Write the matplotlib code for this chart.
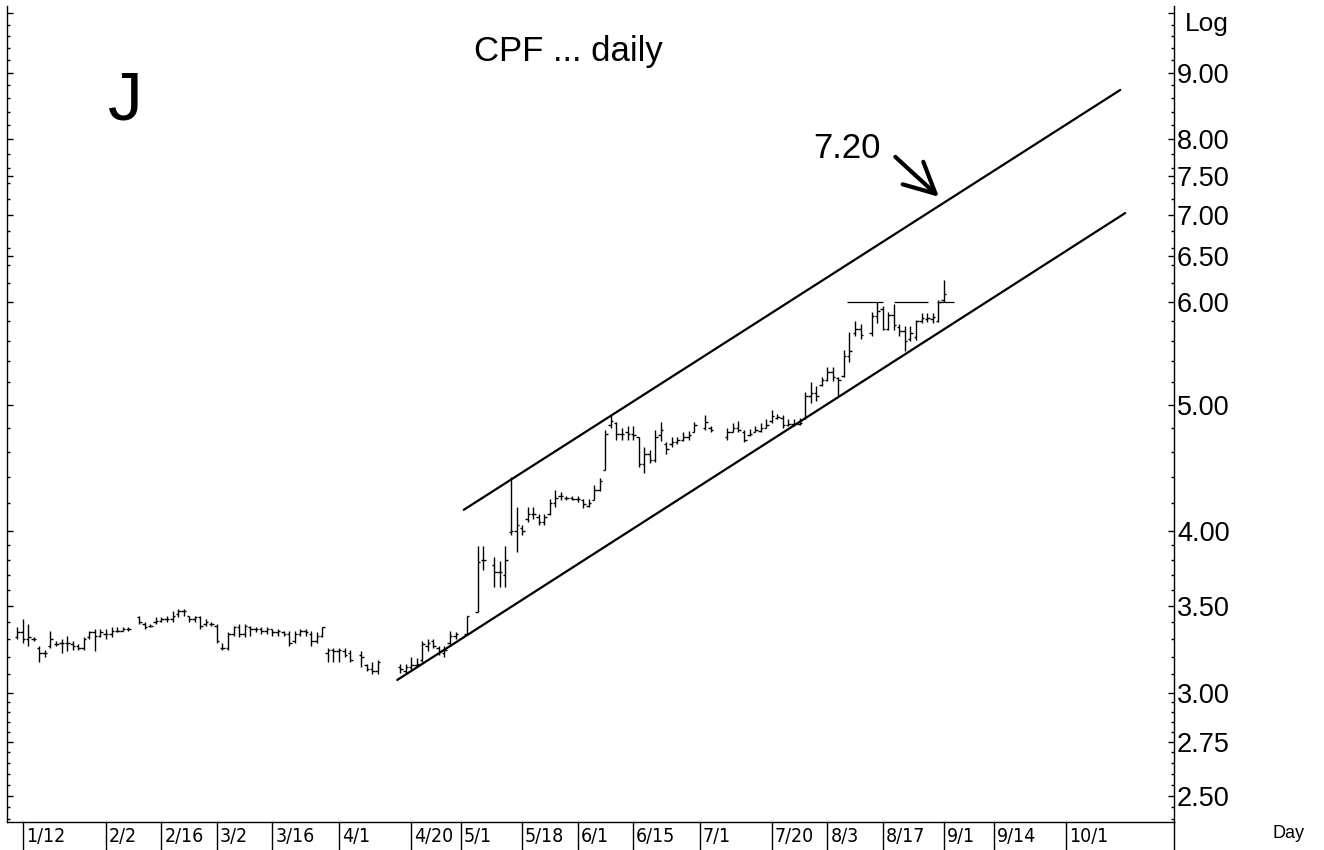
import numpy as np
import matplotlib
matplotlib.use('Agg')
import matplotlib.pyplot as plt
from matplotlib.ticker import FixedLocator, FixedFormatter, NullFormatter

# trading-day slots (weekdays counted from 1/12), holidays left empty
slots = (list(range(-1, 20)) + list(range(21, 60)) + list(range(61, 65)) +
         list(range(68, 79)) + [80, 82, 83] + list(range(85, 122)) +
         [123, 124] + list(range(127, 152)) + list(range(153, 167)))

highs = [3.37, 3.42, 3.39, 3.31, 3.26, 3.24, 3.35, 3.29, 3.30, 3.32, 3.29, 3.27, 3.31, 3.35, 3.36, 3.36, 3.36, 3.37, 3.37, 3.37, 3.37,
         3.44, 3.40, 3.39, 3.43, 3.43, 3.44, 3.47, 3.48, 3.48, 3.44, 3.44, 3.44, 3.42, 3.40, 3.39, 3.28, 3.34, 3.38, 3.39, 3.39,
         3.38, 3.37, 3.37, 3.37, 3.36, 3.36, 3.35, 3.35, 3.35, 3.36, 3.36, 3.35, 3.34, 3.37, 3.25, 3.25, 3.25, 3.25, 3.24,
         3.23, 3.16, 3.17, 3.18,
         3.16, 3.16, 3.20, 3.19, 3.29, 3.30, 3.30, 3.26, 3.26, 3.35, 3.34, 3.44, 3.89, 3.89,
         3.82, 3.79, 3.89, 4.40, 4.17, 4.04, 4.17, 4.17, 4.12, 4.12, 4.23, 4.30, 4.28, 4.25, 4.25, 4.25, 4.23, 4.23, 4.34, 4.39,
         4.78, 4.91, 4.85, 4.80, 4.81, 4.81, 4.72, 4.64, 4.61, 4.78, 4.85, 4.68, 4.72, 4.72, 4.76, 4.77, 4.85,
         4.91, 4.81,
         4.80, 4.84, 4.86, 4.78, 4.79, 4.81, 4.84, 4.87, 4.95, 4.92, 4.91, 4.87, 4.87, 4.88, 5.11, 5.20, 5.17, 5.25, 5.34, 5.34,
         5.25, 5.51, 5.69, 5.80, 5.77,
         5.89, 6.00, 5.95, 5.89, 5.97, 5.77, 5.75, 5.75, 5.81, 5.88, 5.88, 5.88, 6.02, 6.23]

lows = [3.30, 3.28, 3.26, 3.29, 3.17, 3.20, 3.25, 3.26, 3.22, 3.23, 3.24, 3.24, 3.24, 3.30, 3.23, 3.31, 3.30, 3.31, 3.34, 3.35, 3.35,
        3.39, 3.36, 3.37, 3.39, 3.40, 3.40, 3.40, 3.43, 3.44, 3.40, 3.40, 3.36, 3.38, 3.38, 3.28, 3.24, 3.24, 3.32, 3.31, 3.31,
        3.32, 3.34, 3.33, 3.33, 3.32, 3.32, 3.32, 3.26, 3.28, 3.32, 3.32, 3.26, 3.28, 3.31, 3.17, 3.17, 3.17, 3.20, 3.17,
        3.14, 3.12, 3.10, 3.10,
        3.11, 3.11, 3.12, 3.14, 3.17, 3.23, 3.25, 3.21, 3.20, 3.26, 3.30, 3.33, 3.46, 3.73,
        3.62, 3.62, 3.62, 3.97, 3.85, 3.97, 4.06, 4.08, 4.04, 4.04, 4.11, 4.17, 4.22, 4.22, 4.22, 4.21, 4.16, 4.17, 4.22, 4.29,
        4.45, 4.80, 4.70, 4.70, 4.70, 4.70, 4.48, 4.43, 4.51, 4.52, 4.69, 4.58, 4.64, 4.66, 4.69, 4.70, 4.76,
        4.78, 4.76,
        4.70, 4.76, 4.76, 4.68, 4.73, 4.76, 4.76, 4.80, 4.84, 4.87, 4.80, 4.81, 4.81, 4.82, 4.87, 5.01, 5.03, 5.17, 5.21, 5.21,
        5.08, 5.25, 5.39, 5.65, 5.62,
        5.65, 5.78, 5.71, 5.71, 5.71, 5.65, 5.50, 5.60, 5.61, 5.78, 5.79, 5.78, 5.79, 6.00]

opens = [3.31, 3.34, 3.30, 3.30, 3.25, 3.22, 3.26, 3.27, 3.28, 3.28, 3.27, 3.26, 3.25, 3.31, 3.34, 3.32, 3.33, 3.33, 3.35, 3.35, 3.36,
         3.43, 3.39, 3.38, 3.40, 3.41, 3.42, 3.42, 3.45, 3.47, 3.44, 3.42, 3.43, 3.39, 3.39, 3.38, 3.25, 3.25, 3.33, 3.37, 3.33,
         3.37, 3.36, 3.36, 3.35, 3.36, 3.34, 3.34, 3.33, 3.29, 3.33, 3.35, 3.33, 3.29, 3.32, 3.22, 3.24, 3.23, 3.23, 3.22,
         3.21, 3.15, 3.13, 3.12,
         3.14, 3.12, 3.14, 3.15, 3.18, 3.26, 3.29, 3.25, 3.22, 3.28, 3.32, 3.33, 3.46, 3.80,
         3.76, 3.72, 3.70, 3.99, 4.00, 4.02, 4.08, 4.12, 4.10, 4.06, 4.12, 4.20, 4.25, 4.24, 4.24, 4.23, 4.22, 4.18, 4.22, 4.30,
         4.45, 4.82, 4.84, 4.75, 4.76, 4.75, 4.72, 4.50, 4.58, 4.53, 4.74, 4.66, 4.66, 4.68, 4.70, 4.72, 4.76,
         4.80, 4.80,
         4.72, 4.76, 4.80, 4.76, 4.74, 4.76, 4.77, 4.80, 4.86, 4.88, 4.88, 4.82, 4.83, 4.83, 4.88, 5.08, 5.10, 5.18, 5.22, 5.30,
         5.24, 5.26, 5.45, 5.68, 5.72,
         5.68, 5.85, 5.92, 5.72, 5.86, 5.74, 5.70, 5.62, 5.64, 5.80, 5.82, 5.82, 5.80, 6.02]

closes = [3.34, 3.30, 3.31, 3.30, 3.22, 3.22, 3.30, 3.27, 3.28, 3.28, 3.26, 3.25, 3.30, 3.34, 3.32, 3.34, 3.33, 3.35, 3.35, 3.36, 3.36,
          3.40, 3.37, 3.38, 3.41, 3.42, 3.42, 3.44, 3.47, 3.47, 3.42, 3.43, 3.38, 3.40, 3.39, 3.29, 3.25, 3.33, 3.37, 3.33, 3.38,
          3.36, 3.36, 3.35, 3.36, 3.34, 3.35, 3.33, 3.28, 3.33, 3.35, 3.34, 3.29, 3.32, 3.37, 3.24, 3.23, 3.24, 3.21, 3.18,
          3.20, 3.13, 3.12, 3.17,
          3.13, 3.14, 3.15, 3.16, 3.27, 3.28, 3.26, 3.23, 3.24, 3.32, 3.33, 3.44, 3.78, 3.80,
          3.72, 3.72, 3.80, 4.00, 4.04, 4.00, 4.12, 4.12, 4.06, 4.10, 4.20, 4.24, 4.25, 4.24, 4.23, 4.23, 4.19, 4.20, 4.30, 4.37,
          4.75, 4.86, 4.75, 4.75, 4.75, 4.74, 4.50, 4.58, 4.53, 4.72, 4.78, 4.62, 4.68, 4.70, 4.72, 4.74, 4.82,
          4.85, 4.78,
          4.76, 4.80, 4.78, 4.70, 4.75, 4.78, 4.80, 4.82, 4.90, 4.89, 4.82, 4.83, 4.83, 4.84, 5.08, 5.10, 5.08, 5.22, 5.30, 5.25,
          5.22, 5.45, 5.50, 5.72, 5.66,
          5.85, 5.90, 5.72, 5.86, 5.76, 5.70, 5.60, 5.68, 5.80, 5.83, 5.83, 5.84, 6.00, 6.08]

# date labels on the day axis
tick_slots = [0, 15, 25, 35, 45, 57, 70, 79, 90, 100, 110, 122, 135, 145, 155, 166, 175, 188]
tick_labels = ['1/12', '2/2', '2/16', '3/2', '3/16', '4/1', '4/20', '5/1', '5/18', '6/1',
               '6/15', '7/1', '7/20', '8/3', '8/17', '9/1', '9/14', '10/1']

# price scale labels
price_ticks = [2.50, 2.75, 3.00, 3.50, 4.00, 5.00, 6.00, 6.50, 7.00, 7.50, 8.00, 9.00, 10.0]

# trend channel and resistance
upper_x = [79.5, 197.8]
upper_y = [4.15, 8.73]
lower_x = [67.5, 198.7]
lower_y = [3.07, 7.02]
resist_x0 = [148.5, 157.0, 164.8]
resist_x1 = [155.1, 163.1, 167.9]
resist_y = 6.00
target_price = 7.20

W, H = 1324, 850
fig = plt.figure(figsize=(W / 100, H / 100), dpi=100)
ax = fig.add_axes([7.3 / W, 28 / H, (1173.5 - 7.3) / W, 816 / H])
ax.set_yscale('log')
ax.set_ylim(2.387, 10.13)
ax.set_xlim(-2.78, 207.4)

s = np.array(slots)
ax.vlines(s, lows, highs, color='black', lw=1.0)
ax.hlines(opens, s - 0.45, s, color='black', lw=1.0)
ax.hlines(closes, s, s + 0.45, color='black', lw=1.0)

ax.plot(upper_x, upper_y, color='black', lw=1.6, solid_capstyle='round')
ax.plot(lower_x, lower_y, color='black', lw=1.6, solid_capstyle='round')
ax.hlines([resist_y] * 3, resist_x0, resist_x1, color='black', lw=0.9)

# arrow pointing at the channel top
ax.annotate('', xy=(165.5, target_price), xytext=(156.9, 7.78),
            arrowprops=dict(arrowstyle='->,head_length=1.0,head_width=0.5',
                            lw=3, color='black', mutation_scale=22))
fig.text(813 / W, 1 - 158 / H, '%.2f' % target_price, fontsize=25,
         family='Liberation Sans', ha='left', va='baseline')

# spines
ax.spines['top'].set_visible(False)
for side in ['left', 'right', 'bottom']:
    ax.spines[side].set_linewidth(1.0)

# y axis, labels on the right
minor = list(np.arange(2.40, 3.0, 0.05)) + list(np.arange(3.1, 4.0, 0.1)) + list(np.arange(4.2, 10.1, 0.2))
minor = [m for m in minor if min(abs(m - p) for p in price_ticks) > 0.01]
ax.yaxis.set_major_locator(FixedLocator(price_ticks))
ax.yaxis.set_major_formatter(FixedFormatter(['%.2f' % p for p in price_ticks[:-1]] + ['']))
ax.yaxis.set_minor_locator(FixedLocator(minor))
ax.yaxis.set_minor_formatter(NullFormatter())
ax.tick_params(axis='y', which='both', left=True, right=True, labelleft=False,
               labelright=True, direction='in')
ax.tick_params(axis='y', which='major', length=4, width=1, pad=2.5,
               labelsize=19.5)
ax.tick_params(axis='y', which='minor', length=2.5, width=1)
for t in ax.get_yticklabels():
    t.set_family('Liberation Sans')

# day axis: separators with labels to their right
ax.set_xticks([])
xt = ax.get_xaxis_transform()
drop = -28 / 816
for ts, lab in zip(tick_slots, tick_labels):
    ax.plot([ts, ts], [0, drop], transform=xt, clip_on=False, color='black', lw=1.0)
    ax.annotate(lab, xy=(ts, 0), xycoords=xt, xytext=(3, -14),
                textcoords='offset pixels', ha='left', va='center',
                fontsize=14, family='DejaVu Sans', fontstretch='condensed')
ax.plot([1, 1], [0, drop], transform=ax.transAxes, clip_on=False, color='black', lw=1.0)

fig.text(1185 / W, 1 - 24 / H, 'Log', fontsize=19, family='Liberation Sans',
         ha='left', va='center')
fig.text(1288 / W, 1 - 834 / H, 'Day', fontsize=13, family='Liberation Sans',
         ha='center', va='center')
fig.text(568 / W, 1 - 51 / H, 'CPF ... daily', fontsize=25, family='Liberation Sans',
         ha='center', va='center')
fig.text(108 / W, 1 - 120 / H, 'J', fontsize=50, family='Liberation Sans',
         ha='left', va='baseline')

fig.savefig('out.png', dpi=100)
